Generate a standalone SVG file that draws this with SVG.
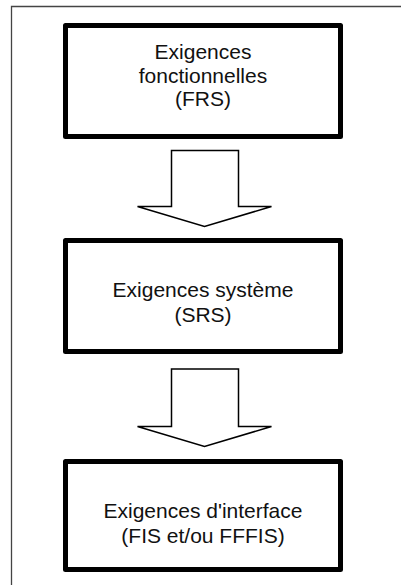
<svg xmlns="http://www.w3.org/2000/svg" width="401" height="585" viewBox="0 0 401 585">
<style>
.box{fill:#fff;stroke:#000;stroke-width:5;stroke-linejoin:round}
.arr{fill:#fff;stroke:#000;stroke-width:1.5;stroke-linejoin:miter}
text{font-family:"Liberation Sans",Arial,sans-serif;font-size:21px;fill:#111;text-anchor:middle}
</style>
<rect width="401" height="585" fill="#fff"/>
<path d="M11.5,585 V6.5 H401" fill="none" stroke="#444" stroke-width="1.3"/>
<g id="connectors">
<polygon class="arr" points="171.5,150.5 238.5,150.5 238.5,206.5 271.5,206.5 204.5,226.5 137.5,206.5 171.5,206.5"/>
<polygon class="arr" points="171.5,369 238.5,369 238.5,426.5 271.5,426.5 204.5,446.5 137.5,426.5 171.5,426.5"/>
</g>
<g id="frs">
<rect class="box" x="65.5" y="25.5" width="275" height="111"/>
<text x="203" y="58.7">Exigences</text>
<text x="203" y="82.7">fonctionnelles</text>
<text x="203" y="106.2">(FRS)</text>
</g>
<g id="srs">
<rect class="box" x="65.5" y="240.5" width="275" height="111"/>
<text x="203" y="297.3">Exigences système</text>
<text x="203" y="322">(SRS)</text>
</g>
<g id="fis">
<rect class="box" x="65.5" y="461.5" width="275" height="108"/>
<text x="203" y="518.3">Exigences d'interface</text>
<text x="203" y="542.7">(FIS et/ou FFFIS)</text>
</g>
</svg>
